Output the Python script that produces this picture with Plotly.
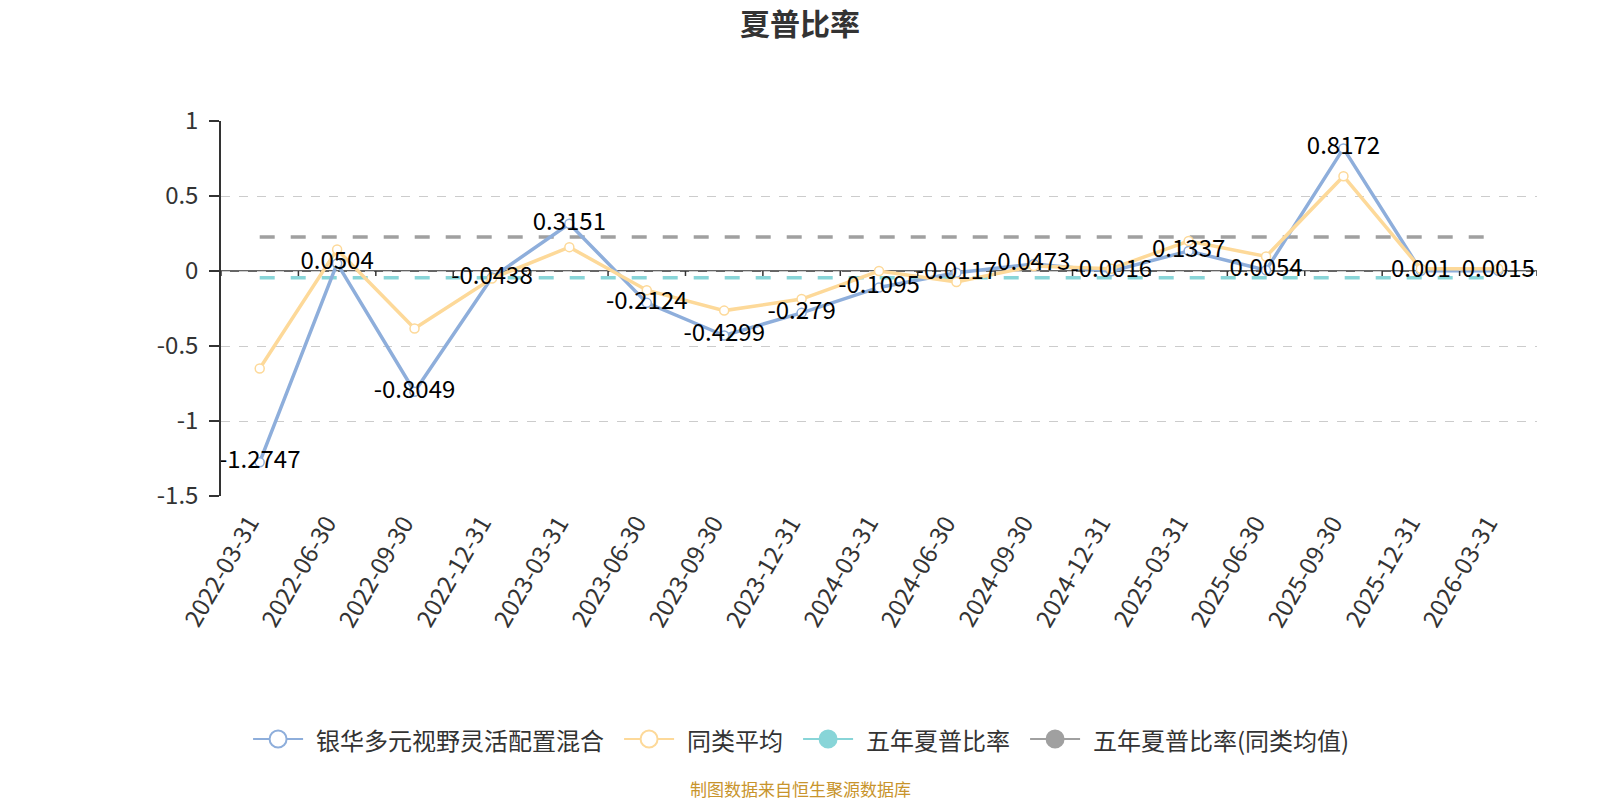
import plotly.graph_objects as go

dates = ["2022-03-31", "2022-06-30", "2022-09-30", "2022-12-31", "2023-03-31", "2023-06-30",
         "2023-09-30", "2023-12-31", "2024-03-31", "2024-06-30", "2024-09-30", "2024-12-31",
         "2025-03-31", "2025-06-30", "2025-09-30", "2025-12-31", "2026-03-31"]
fund = [-1.2747, 0.0504, -0.8049, -0.0438, 0.3151, -0.2124, -0.4299, -0.279, -0.1095,
        -0.0117, 0.0473, -0.0016, 0.1337, 0.0054, 0.8172, 0.001, 0.0015]
peer = [-0.65, 0.143, -0.383, -0.05, 0.159, -0.128, -0.264, -0.187, 0.0,
        -0.073, 0.033, 0.015, 0.20, 0.097, 0.632, 0.015, 0.015]
five_year = -0.045
five_year_peer = 0.227
yticks = [-1.5, -1, -0.5, 0, 0.5, 1]
yticktext = ["-1.5", "-1", "-0.5", "0", "0.5", "1"]

names = ["银华多元视野灵活配置混合", "同类平均", "五年夏普比率", "五年夏普比率(同类均值)"]
BLUE = "#8eaedb"
YELLOW = "#fdd999"
TEAL = "#88d5d8"
GREY = "#a0a0a0"
FONT = "Noto Sans CJK SC"

W, H = 1600, 800
L, R, T, B = 221, 63, 121, 304
PW, PH = W - L - R, H - T - B


def px_x(px):
    return (px - L) / PW


def px_y(py):
    return (H - B - py) / PH


fig = go.Figure()

# dashed reference lines
fig.add_trace(go.Scatter(x=dates, y=[five_year_peer] * len(dates), mode="lines",
                         line=dict(color=GREY, width=3.5, dash="15px,16px"),
                         showlegend=False, hoverinfo="skip"))
fig.add_trace(go.Scatter(x=dates, y=[five_year] * len(dates), mode="lines",
                         line=dict(color=TEAL, width=3.5, dash="15px,16px"),
                         showlegend=False, hoverinfo="skip"))

# main series
fig.add_trace(go.Scatter(x=dates, y=fund, mode="lines+markers",
                         line=dict(color=BLUE, width=3.5),
                         marker=dict(symbol="circle", size=9, color="white",
                                     line=dict(color=BLUE, width=1.5)),
                         showlegend=False))
fig.add_trace(go.Scatter(x=dates, y=peer, mode="lines+markers",
                         line=dict(color=YELLOW, width=3.5),
                         marker=dict(symbol="circle", size=9, color="white",
                                     line=dict(color=YELLOW, width=1.5)),
                         showlegend=False))

# data labels on top
fig.add_trace(go.Scatter(x=dates, y=fund, mode="text", text=[str(v) for v in fund],
                         textposition="middle center",
                         textfont=dict(family=FONT, size=24, color="#000"),
                         showlegend=False, hoverinfo="skip"))

shapes = [dict(type="line", xref="paper", yref="y", x0=0, x1=1, y0=0, y1=0,
               line=dict(color="#333", width=1.5), layer="below")]
for i in range(len(dates) + 1):
    shapes.append(dict(type="line", xref="x", yref="y", ysizemode="pixel", yanchor=0,
                       x0=i - 0.5, x1=i - 0.5, y0=0, y1=-5,
                       line=dict(color="#333", width=1.5)))

annotations = [dict(text="制图数据来自恒生聚源数据库", xref="paper", yref="paper",
                    x=px_x(W / 2), xanchor="center", y=px_y(788), yanchor="middle",
                    showarrow=False, font=dict(family=FONT, size=17, color="#c8942c"))]
for d in dates:
    annotations.append(dict(text=d, xref="x", yref="paper", x=d, y=0, xanchor="right",
                            yanchor="top", textangle=-60, xshift=9, yshift=-10,
                            showarrow=False, font=dict(family=FONT, size=24, color="#333")))

# hand-built legend (wider icons like the reference)
LEG_FS = 24
ICON_W, TEXT_GAP, ITEM_GAP = 50, 11, 22
legend_y = 739
legend_styles = [(BLUE, "white"), (YELLOW, "white"), (TEAL, TEAL), (GREY, GREY)]


def text_w(s):
    return sum(LEG_FS * (0.33 if ch in "()" else 1.0) for ch in s)


total = sum(ICON_W + TEXT_GAP + text_w(n) for n in names) + ITEM_GAP * (len(names) - 1)
cur = W / 2 - total / 2
for name, (c, fill) in zip(names, legend_styles):
    shapes.append(dict(type="line", xref="paper", yref="paper",
                       x0=px_x(cur), x1=px_x(cur + ICON_W), y0=px_y(legend_y), y1=px_y(legend_y),
                       line=dict(color=c, width=2)))
    shapes.append(dict(type="circle", xref="paper", yref="paper", xsizemode="pixel",
                       ysizemode="pixel", xanchor=px_x(cur + ICON_W / 2), yanchor=px_y(legend_y),
                       x0=-8.5, x1=8.5, y0=-8.5, y1=8.5, fillcolor=fill,
                       line=dict(color=c, width=2)))
    annotations.append(dict(text=name, xref="paper", yref="paper", x=px_x(cur + ICON_W + TEXT_GAP),
                            xanchor="left", y=px_y(legend_y), yanchor="middle", showarrow=False,
                            font=dict(family=FONT, size=LEG_FS, color="#333")))
    cur += ICON_W + TEXT_GAP + text_w(name) + ITEM_GAP

fig.update_layout(
    width=W, height=H,
    margin=dict(l=L, r=R, t=T, b=B),
    paper_bgcolor="white", plot_bgcolor="white",
    font=dict(family=FONT, color="#333"),
    title=dict(text="<b>夏普比率</b>", x=0.5, xanchor="center", y=1 - 24 / H, yanchor="middle",
               font=dict(family=FONT, size=30, color="#333")),
    showlegend=False,
    shapes=shapes,
    annotations=annotations,
)
fig.update_xaxes(type="category", range=[-0.5, len(dates) - 0.5], showline=False, showgrid=False,
                 zeroline=False, ticks="", showticklabels=False)
fig.update_yaxes(range=[-1.5, 1], tickvals=yticks, ticktext=yticktext, showline=True,
                 linecolor="#333", linewidth=1.5, ticks="outside", ticklen=10, tickcolor="#333",
                 tickwidth=1.5, showgrid=True, gridcolor="#cccccc", griddash="dash", gridwidth=1,
                 zeroline=False, ticklabelstandoff=6,
                 tickfont=dict(family=FONT, size=24, color="#333"))

fig.write_html("out.html")
